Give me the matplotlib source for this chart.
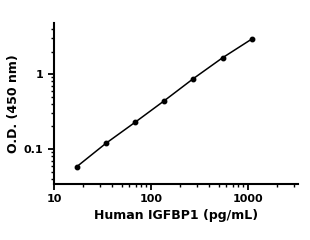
import matplotlib
matplotlib.use("Agg")
import matplotlib.pyplot as plt
from matplotlib.ticker import LogLocator, FuncFormatter, NullFormatter

conc = [17.2, 34.4, 68.75, 137.5, 275, 550, 1100]
od = [0.058, 0.119, 0.227, 0.44, 0.87, 1.65, 2.93]


def main():
    fig = plt.figure(figsize=(3.1, 2.4), dpi=100)
    ax = fig.add_axes([0.174, 0.233, 0.787, 0.671])

    ax.plot(conc, od, color="black", lw=1.1, marker="o", ms=3.2)

    ax.set_xscale("log")
    ax.set_yscale("log")
    ax.set_xlim(10, 3300)
    ax.set_ylim(0.034, 4.8)

    for s in ["top", "right"]:
        ax.spines[s].set_visible(False)
    for s in ["left", "bottom"]:
        ax.spines[s].set_linewidth(1.5)

    fmt = FuncFormatter(lambda v, p: f"{v:g}")
    ax.xaxis.set_major_locator(LogLocator(base=10))
    ax.yaxis.set_major_locator(LogLocator(base=10))
    ax.xaxis.set_major_formatter(fmt)
    ax.yaxis.set_major_formatter(fmt)
    ax.xaxis.set_minor_formatter(NullFormatter())
    ax.yaxis.set_minor_formatter(NullFormatter())
    ax.tick_params(which="major", length=4, width=1.3, labelsize=8)
    ax.tick_params(which="minor", length=2, width=1.0)
    for lab in ax.get_xticklabels() + ax.get_yticklabels():
        lab.set_fontweight("bold")

    ax.set_xlabel("Human IGFBP1 (pg/mL)", fontsize=9, fontweight="bold", labelpad=3)
    ax.set_ylabel("O.D. (450 nm)", fontsize=9, fontweight="bold", labelpad=3)

    fig.savefig("out.png", dpi=100)


if __name__ == "__main__":
    main()
